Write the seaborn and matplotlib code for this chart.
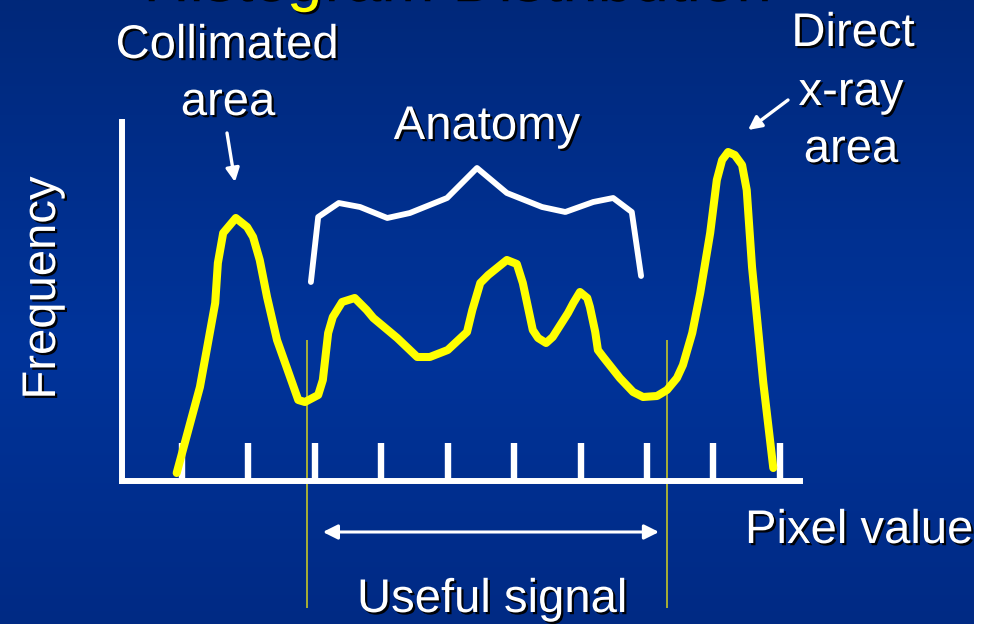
import numpy as np
import matplotlib
matplotlib.use("Agg")
import matplotlib.pyplot as plt
import matplotlib.patheffects as pe
import seaborn as sns

# Histogram of an X-ray image: pixel value (bins) vs. frequency
pixel_value = [-0.08, 0.27, 0.38, 0.50, 0.54, 0.62, 0.81, 0.98, 1.07, 1.17,
               1.28, 1.43, 1.75, 1.85, 2.05, 2.12, 2.20, 2.27, 2.41, 2.60,
               2.78, 2.88, 3.24, 3.54, 3.73, 4.00, 4.29, 4.37, 4.49, 4.61,
               4.89, 5.04, 5.13, 5.28, 5.36, 5.48, 5.58, 5.81, 5.89, 5.99,
               6.10, 6.14, 6.22, 6.26, 6.34, 6.59, 6.79, 6.94, 7.15, 7.30,
               7.45, 7.54, 7.68, 7.80, 7.95, 8.05, 8.13, 8.22, 8.32, 8.43,
               8.50, 8.58, 8.75, 8.90]
frequency = [0.08, 0.94, 1.34, 1.78, 2.18, 2.48, 2.63, 2.54, 2.44, 2.21,
             1.84, 1.41, 0.81, 0.79, 0.86, 1.01, 1.48, 1.64, 1.79, 1.83,
             1.71, 1.63, 1.43, 1.24, 1.24, 1.31, 1.49, 1.71, 1.98, 2.06,
             2.21, 2.17, 1.98, 1.51, 1.43, 1.38, 1.44, 1.68, 1.78, 1.89,
             1.83, 1.74, 1.49, 1.31, 1.24, 1.03, 0.89, 0.84, 0.85, 0.91,
             1.03, 1.16, 1.48, 1.88, 2.48, 3.01, 3.21, 3.29, 3.26, 3.16,
             2.91, 2.14, 0.98, 0.13]

# Bracket grouping the anatomy part of the histogram
anatomy_x = [1.94, 2.05, 2.36, 2.68, 3.09, 3.43, 3.99, 4.44, 4.89, 5.42,
             5.77, 6.19, 6.49, 6.77, 6.91]
anatomy_y = [1.99, 2.64, 2.78, 2.74, 2.63, 2.68, 2.83, 3.13, 2.88, 2.74,
             2.69, 2.79, 2.83, 2.69, 2.05]

tick_positions = list(range(10))
useful_bounds = [1.88, 7.30]
arrow_span = [2.12, 7.18]

title = "Histogram Distribution"
x_label = "Pixel value"
y_label = "Frequency"

W, H = 994, 624
FONT = "Liberation Sans"
shadow = [pe.withSimplePatchShadow(offset=(1.6, -1.6), shadow_rgbFace="black", alpha=0.95)]

sns.set_style("white")
plt.rcParams["font.family"] = [FONT, "DejaVu Sans"]

fig = plt.figure(figsize=(W / 100, H / 100), dpi=100)
fig.patch.set_facecolor("white")


def fp(x, y):
    """Pixel position -> figure fraction."""
    return x / W, 1 - y / H


# Slide background: vertical navy gradient
bg = fig.add_axes([0, 0, 974 / W, 1])
bg.set_axis_off()
rows = np.linspace(0, 1, 400)
stops = [0.0, 0.55, 1.0]
r = np.interp(rows, stops, [0, 0, 0])
g = np.interp(rows, stops, [40, 52, 42])
b = np.interp(rows, stops, [122, 155, 132])
grad = np.stack([r, g, b], axis=-1)[:, None, :] / 255.0
bg.imshow(grad, aspect="auto", extent=[0, 1, 0, 1], origin="upper")
bg.set_xlim(0, 1)
bg.set_ylim(0, 1)

# Histogram axes
ax = fig.add_axes([122 / W, 1 - 481 / H, (800 - 122) / W, (481 - 122) / H])
ax.patch.set_alpha(0)
sns.lineplot(x=anatomy_x, y=anatomy_y, ax=ax, color="white", lw=4.2,
             sort=False, estimator=None, zorder=3, clip_on=False)
sns.lineplot(x=pixel_value, y=frequency, ax=ax, color="#FFFF00", lw=5.8,
             sort=False, estimator=None, zorder=4, clip_on=False)
ax.set_xlim(-0.903, 9.302)
ax.set_ylim(0, 3.59)
ax.set_xlabel("")
ax.set_ylabel("")

for side in ("top", "right"):
    ax.spines[side].set_visible(False)
for side in ("left", "bottom"):
    ax.spines[side].set_color("white")
    ax.spines[side].set_linewidth(4.3)
    ax.spines[side].set_capstyle("projecting")

ax.set_xticks(tick_positions)
ax.set_xticklabels([])
ax.set_yticks([])
ax.tick_params(axis="x", direction="in", length=27.4, width=4.6,
               color="white", bottom=True)

# Useful-signal limits and span arrow
ax.vlines(useful_bounds, -1.27, 1.41, color="#d6d21e", lw=1.1, zorder=2,
          clip_on=False)
ax.annotate("", xy=(arrow_span[1], -0.51), xytext=(arrow_span[0], -0.51),
            arrowprops=dict(arrowstyle="<|-|>", color="white", lw=2.2,
                            mutation_scale=22, shrinkA=0, shrinkB=0),
            annotation_clip=False)

# Texts
txt = dict(color="white", fontsize=34, family=[FONT, "DejaVu Sans"],
           path_effects=shadow, va="baseline")
fig.text(*fp(455, -1), title, color="#FFFF00", fontsize=46,
         family=[FONT, "DejaVu Sans"], path_effects=shadow,
         ha="center", va="baseline")
fig.text(*fp(227, 58), "Collimated", ha="center", **txt)
fig.text(*fp(228, 115), "area", ha="center", **txt)
fig.text(*fp(487, 139), "Anatomy", ha="center", **txt)
fig.text(*fp(853, 46), "Direct", ha="center", **txt)
fig.text(*fp(851, 105), "x-ray", ha="center", **txt)
fig.text(*fp(851, 162), "area", ha="center", **txt)
fig.text(*fp(745, 543), x_label, ha="left", **txt)
fig.text(*fp(492, 612), "Useful signal", ha="center", **txt)
fig.text(*fp(55, 288), y_label, ha="center", rotation=90,
         rotation_mode="anchor", **txt)

# Pointer arrows for the labelled peaks
arrow_kw = dict(arrowstyle="-|>", color="white", lw=2.4, mutation_scale=20,
                shrinkA=0, shrinkB=0)
fig.add_artist(matplotlib.patches.FancyArrowPatch(
    fp(227, 133), fp(235, 182), transform=fig.transFigure, **arrow_kw))
fig.add_artist(matplotlib.patches.FancyArrowPatch(
    fp(788, 100), fp(748, 130), transform=fig.transFigure, **arrow_kw))

fig.savefig("out.png", dpi=100)
